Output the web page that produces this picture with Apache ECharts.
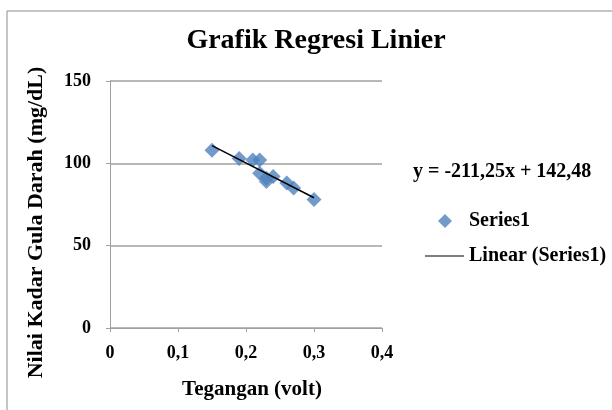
<!DOCTYPE html>
<html>
<head>
<meta charset="utf-8">
<script src="https://cdn.jsdelivr.net/npm/echarts@6/dist/echarts.min.js"></script>
<style>html,body{margin:0;padding:0;background:#fff;}#c{width:612px;height:410px;}</style>
</head>
<body>
<div id="c"></div>
<script>
var titleText = 'Grafik Regresi Linier';
var xName = 'Tegangan (volt)';
var yName = 'Nilai Kadar Gula Darah (mg/dL)';
var xValues = [0.15, 0.19, 0.21, 0.22, 0.22, 0.23, 0.23, 0.24, 0.26, 0.27, 0.30];
var yValues = [108, 103, 102, 102, 94, 89, 91, 92, 88, 85, 78];
var slope = -211.25;
var intercept = 142.48;
var trendX = [0.15, 0.30];
var equationText = 'y = -211,25x + 142,48';
var seriesName = 'Series1';
var trendName = 'Linear (Series1)';

var FONT = '"Liberation Serif", "Times New Roman", serif';
var scatterData = xValues.map(function (x, i) { return [x, yValues[i]]; });
var trendData = trendX.map(function (x) { return [x, slope * x + intercept]; });
function fmt(v) { return String(v).replace('.', ','); }

var chart = echarts.init(document.getElementById('c'), null, { renderer: 'canvas' });
chart.setOption({
  backgroundColor: '#fff',
  animation: false,
  title: {
    text: titleText, left: 316, top: 27, textAlign: 'center', padding: 0,
    textStyle: { fontFamily: FONT, fontWeight: 'bold', fontSize: 28, color: '#000' }
  },
  grid: { left: 110, right: 230, top: 81, bottom: 82 },
  xAxis: {
    type: 'value', min: 0, max: 0.4, interval: 0.1,
    name: xName, nameLocation: 'middle', nameGap: 51,
    nameTextStyle: { fontFamily: FONT, fontWeight: 'bold', fontSize: 21, color: '#000', padding: [0, 0, 0, 12] },
    axisLine: { show: true, lineStyle: { color: '#a0a0a0', width: 1 } },
    axisTick: { show: true, length: 4, inside: false, lineStyle: { color: '#a0a0a0' } },
    splitLine: { show: false },
    axisLabel: { margin: 16, formatter: fmt, fontFamily: FONT, fontWeight: 'bold', fontSize: 18, color: '#000' }
  },
  yAxis: {
    type: 'value', min: 0, max: 150, interval: 50,
    name: yName, nameLocation: 'middle', nameGap: 63, nameRotate: 90,
    nameTextStyle: { fontFamily: FONT, fontWeight: 'bold', fontSize: 22, color: '#000', padding: [0, 36, 0, 0] },
    axisLine: { show: true, lineStyle: { color: '#a0a0a0', width: 1 } },
    axisTick: { show: true, length: 4, lineStyle: { color: '#a0a0a0' } },
    splitLine: { show: true, lineStyle: { color: '#a0a0a0', width: 1.5 } },
    axisLabel: { margin: 19, fontFamily: FONT, fontWeight: 'bold', fontSize: 18, color: '#000' }
  },
  legend: [
    {
      data: [{ name: seriesName, icon: 'diamond' }],
      left: 438, top: 211, padding: 0, itemWidth: 14, itemHeight: 14, itemGap: 0,
      textStyle: { fontFamily: FONT, fontWeight: 'bold', fontSize: 20, color: '#000', padding: [0, 0, 0, 12] }
    },
    {
      data: [{ name: trendName, icon: 'path://M0,0 L40,0 L40,1 L0,1 Z' }],
      left: 425, top: 246, padding: 0, itemWidth: 39, itemHeight: 2, itemGap: 0,
      textStyle: { fontFamily: FONT, fontWeight: 'bold', fontSize: 20, color: '#000' }
    }
  ],
  graphic: [
    { type: 'rect', shape: { x: 7, y: 11, width: 700, height: 500 }, style: { fill: 'none', stroke: '#8c8c8c', lineWidth: 1 }, silent: true },
    { type: 'text', left: 413, top: 162, style: { text: equationText, fontFamily: FONT, fontWeight: 'bold', fontSize: 20, fill: '#000' } }
  ],
  series: [
    {
      name: seriesName, type: 'scatter', data: scatterData,
      symbol: 'diamond', symbolSize: 15,
      itemStyle: { color: '#4F81BD' }, z: 3
    },
    {
      name: trendName, type: 'line', data: trendData,
      symbol: 'none', lineStyle: { color: '#000', width: 1.5 },
      itemStyle: { color: '#000' }, z: 4
    }
  ]
});
</script>
</body>
</html>
